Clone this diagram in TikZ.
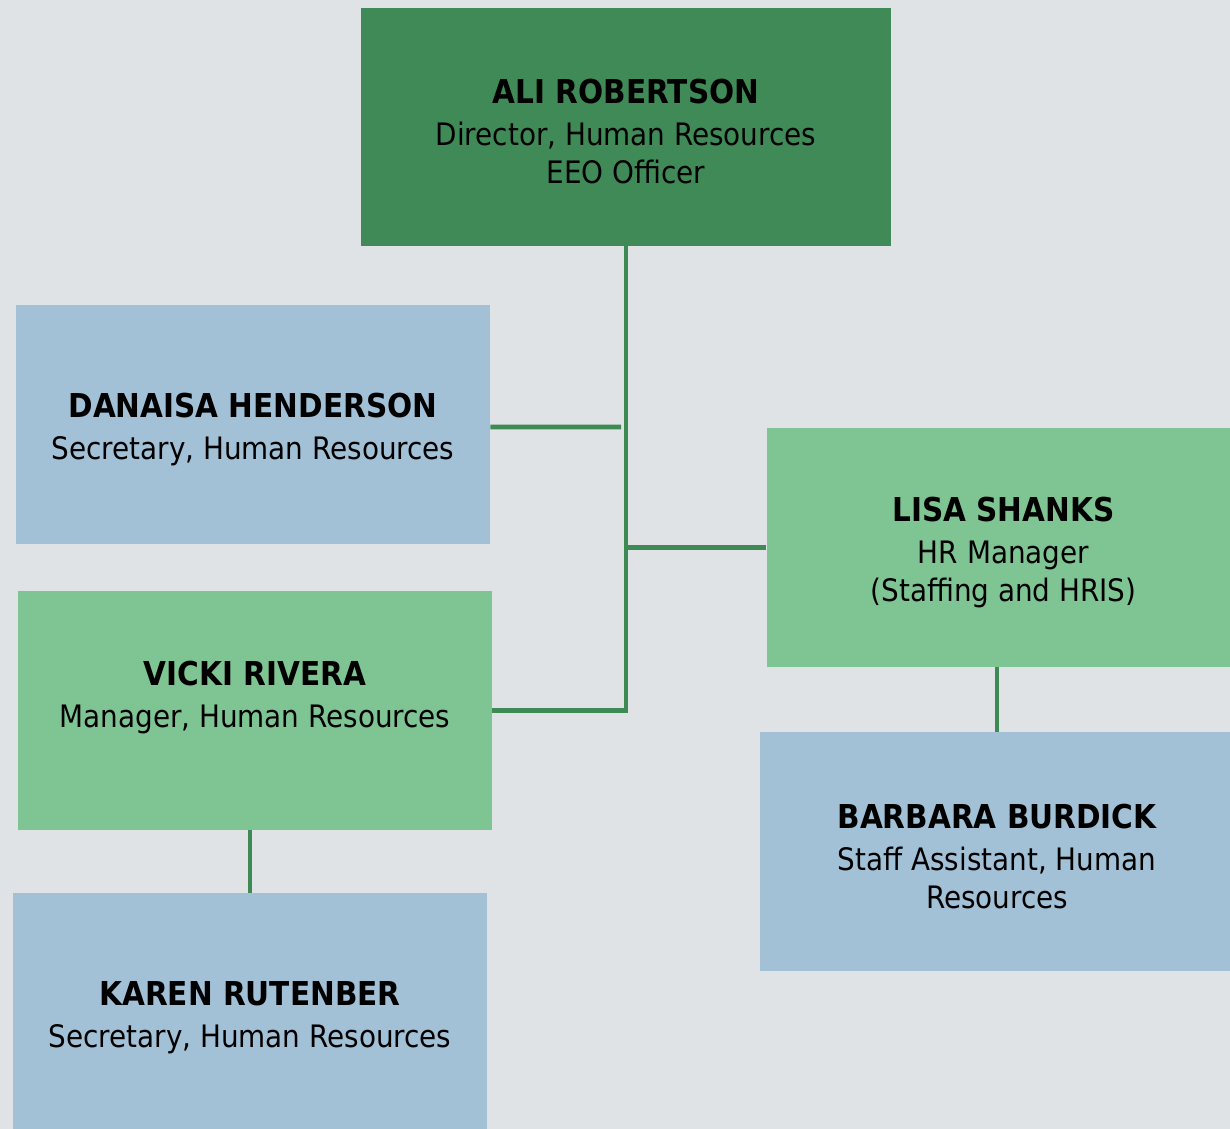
\documentclass[tikz,border=0pt]{standalone}
\usepackage{fontspec}
\setmainfont{DejaVu Sans Condensed}
\usepackage{tikz}
\definecolor{pagegrey}{HTML}{DFE3E6}
\definecolor{headgreen}{HTML}{3F8A56}
\definecolor{mgrgreen}{HTML}{7FC493}
\definecolor{staffblue}{HTML}{A2C1D7}
\definecolor{linkgreen}{HTML}{3E8A55}
\tikzset{
    every node/.style={align=center, text=black,
    	font=\fontsize{17.6}{21.5}\selectfont},
    person/.style={minimum width=9.48cm, minimum height=4.78cm, inner sep=0pt},
    head/.style={person, fill=headgreen, minimum width=10.6cm, minimum height=4.76cm},
    manager/.style={person, fill=mgrgreen},
    staff/.style={person, fill=staffblue},
    link/.style={draw=linkgreen, line width=2.6pt}
}
\newcommand{\who}[1]{{\rule{0pt}{0.68cm}\fontsize{18.7}{21.5}\selectfont\bfseries #1}}

\begin{document}
\begin{tikzpicture}
	\fill[pagegrey] (0,0) rectangle (24.6,-22.58);
	\useasboundingbox (0,0) rectangle (24.6,-22.58);

	\node (ali) [head] at (12.52cm, -2.54cm) {\who{ALI ROBERTSON}\\[0.08cm]Director, Human Resources\\EEO Officer};
	\node (danaisa) [staff] at (5.06cm, -8.49cm) {\who{DANAISA HENDERSON}\\[0.08cm]Secretary, Human Resources};
	\node (lisa) [manager] at (20.07cm, -10.95cm) {\who{LISA SHANKS}\\[0.08cm]HR Manager\\(Staffing and HRIS)};
	\node (vicki) [manager] at (5.10cm, -14.21cm) {\who{VICKI RIVERA}\\[0.08cm]Manager, Human Resources\\[0.1cm]};
	\node (barbara) [staff] at (19.94cm, -17.03cm) {\who{BARBARA BURDICK}\\[0.08cm]Staff Assistant, Human\\Resources};
	\node (karen) [staff] at (5.00cm, -20.25cm) {\who{KAREN RUTENBER}\\[0.08cm]Secretary, Human Resources};
	\coordinate (dstop) at (12.42cm, -8.54cm);

	\draw[link] (ali.south) |- (vicki.east);
	\draw[link] ([yshift=-0.05cm]danaisa.east) -- (dstop);
	\draw[link] (ali.south |- lisa.west) -- (lisa.west);
	\draw[link] (karen.north) -- (karen.north |- vicki.south);
	\draw[link] (barbara.north) -- (barbara.north |- lisa.south);
\end{tikzpicture}
\end{document}
